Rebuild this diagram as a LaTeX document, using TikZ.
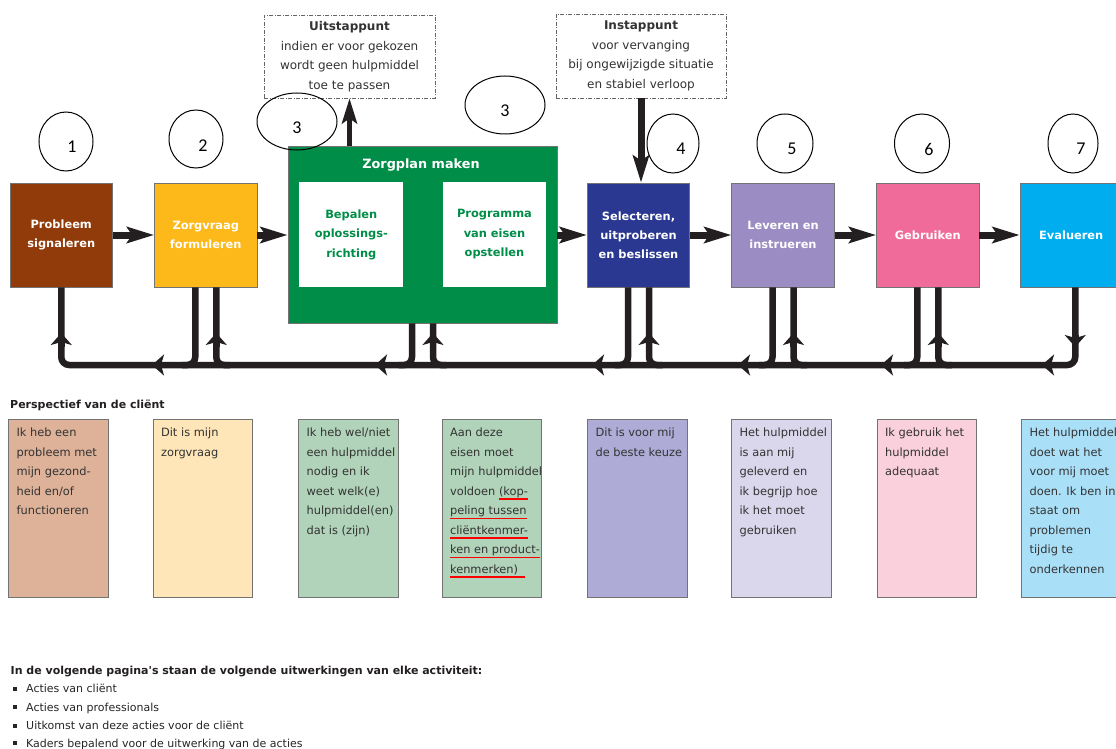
\documentclass[tikz,border=0pt]{standalone}
\usepackage{fontspec}
\setmainfont{DejaVu Sans}
\newfontfamily\numfont{Carlito}
\usetikzlibrary{arrows.meta,calc,shapes.geometric}
\definecolor{cBrown}{RGB}{145,58,10}
\definecolor{cYellow}{RGB}{252,185,25}
\definecolor{cGreen}{RGB}{0,141,72}
\definecolor{cBlue}{RGB}{43,56,145}
\definecolor{cLav}{RGB}{155,140,196}
\definecolor{cPink}{RGB}{240,107,153}
\definecolor{cCyan}{RGB}{0,174,239}
\definecolor{pTan}{RGB}{221,178,153}
\definecolor{pYel}{RGB}{254,230,184}
\definecolor{pGreen}{RGB}{176,211,185}
\definecolor{pBlue}{RGB}{174,172,214}
\definecolor{pLav}{RGB}{218,214,235}
\definecolor{pPink}{RGB}{249,208,220}
\definecolor{pCyan}{RGB}{170,223,248}
\definecolor{ink}{RGB}{35,31,32}
\newsavebox\rlbox
\newcommand\redline[1]{\sbox\rlbox{#1}\rlap{\color{red}\rule[-4.3pt]{\wd\rlbox}{1.6pt}}\usebox\rlbox}
\newcommand\sqbullet{\hspace{2pt}\makebox[13pt][l]{\raisebox{2pt}{\rule{3.6pt}{3.6pt}}}}
\begin{document}
\begin{tikzpicture}[x=1pt,y=-1pt,
  box/.style={draw=black!55, line width=0.8pt, minimum width=102.5pt, minimum height=104pt, inner sep=0pt, text=white, font=\bfseries\fontsize{11.4}{19}\selectfont, align=center},
  wbox/.style={fill=white, minimum width=104pt, minimum height=105pt, inner sep=0pt, text=cGreen, font=\bfseries\fontsize{11.4}{19.5}\selectfont, align=center},
  pbox/.style={draw=black!55, line width=0.8pt, minimum width=99.5pt, minimum height=178pt, inner sep=0pt},
  ptext/.style={anchor=north west, inner sep=0pt, align=left, text=black!80, font=\fontsize{11.4}{19.5}\selectfont},
  dbox/.style={draw=black!60, line width=0.7pt, dash pattern=on 4pt off 1.5pt on 1pt off 1.5pt, minimum width=171pt, minimum height=83pt, inner sep=0pt, align=center, text=black!80, font=\fontsize{12}{19.5}\selectfont},
  mainarrow/.style={line width=7pt, draw=ink, -{Stealth[length=27pt,width=16pt,inset=5pt]}},
  fb/.style={line width=6.5pt, draw=ink, rounded corners=8pt},
  fbtip/.style={line width=6.5pt, draw=ink, -{Stealth[length=12pt,width=21pt,inset=3pt]}},
  numell/.style={draw=black, line width=1pt, ellipse, inner sep=0pt},
  num/.style={inner sep=0pt, font=\numfont\fontsize{18}{18}\selectfont},
  bottomtxt/.style={anchor=base west, inner sep=0pt, text=black!85, font=\fontsize{11}{13}\selectfont}
]
\useasboundingbox (0,0) rectangle (1116,749);
\fill[white] (0,0) rectangle (1116,749);

% main process boxes
\node[box, fill=cBrown] (b1) at (61.25,235) {Probleem\\signaleren};
\node[box, fill=cYellow] (b2) at (205.75,235) {Zorgvraag\\formuleren};
\node[draw=black!55, line width=0.8pt, fill=cGreen, minimum width=269pt, minimum height=177pt, inner sep=0pt] (green) at (422.5,234.5) {};
\node[text=white, font=\bfseries\fontsize{12.8}{15}\selectfont, inner sep=0pt] (zp) at (421,165) {Zorgplan maken};
\node[wbox] (w1) at (351.3,234.5) {Bepalen\\oplossings-\\richting};
\node[wbox, minimum width=103pt] (w2) at (494.5,234.5) {Programma\\van eisen\\opstellen};
\node[box, fill=cBlue] (b4) at (638.5,235) {Selecteren,\\uitproberen\\en beslissen};
\node[box, fill=cLav] (b5) at (783,235) {Leveren en\\instrueren};
\node[box, fill=cPink] (b6) at (927.75,235) {Gebruiken};
\node[box, fill=cCyan] (b7) at (1071.25,235) {Evalueren};

% dashed boxes
\node[dbox] (uit) at (349.5,56.5) {\textbf{Uitstappunt}\\indien er voor gekozen\\wordt geen hulpmiddel\\toe te passen};
\node[dbox, minimum width=170pt, minimum height=84pt] (in) at (641,56) {\textbf{Instappunt}\\voor vervanging\\bij ongewijzigde situatie\\en stabiel verloop};

% main arrows
\draw[mainarrow] (b1.east) -- (b2.west);
\draw[mainarrow] (b2.east) -- (b2.east -| green.west);
\draw[mainarrow] (green.east |- b4.west) -- (b4.west);
\draw[mainarrow] (b4.east) -- (b5.west);
\draw[mainarrow] (b5.east) -- (b6.west);
\draw[mainarrow] (b6.east) -- (b7.west);
\draw[line width=5.5pt, draw=ink, -{Stealth[length=25pt,width=15pt,inset=5pt]}] (uit.south |- green.north) -- (uit.south);
\draw[mainarrow] (in.south) -- (in.south |- b4.north);

% feedback loop
\coordinate (bus) at (0,365);
\coordinate (ua) at (0,347);
\coordinate (ub) at (0,333);
\draw[fb] ($(b7.south)+(4,0)$) |- (bus -| b1.south) -- (b1.south);
\foreach \n in {b2,green,b4,b5,b6}{
  \draw[fb] ($(\n.south)+(-10.5,0)$) |- ($(\n.south |- bus)+(-24,0)$);
  \draw[fb] ($(\n.south)+(10.5,0)$) |- ($(\n.south |- bus)+(24,0)$);
  \draw[fbtip] ($(\n.south |- ua)+(10.5,0)$) -- ($(\n.south |- ub)+(10.5,0)$);
}
\draw[fbtip] (b1.south |- ua) -- (b1.south |- ub);
\draw[fbtip] ($(b7.south |- ub)+(4,2)$) -- ($(b7.south |- ua)+(4,0)$);
\foreach \x in {152,375,592,738,881,1042}{
  \draw[fbtip] (\x+12,365) -- (\x,365);
}

% numbered ellipses
\node[numell, minimum width=54pt, minimum height=59pt] (e1) at (66,141.5) {};
\node[numell, minimum width=54pt, minimum height=58pt] (e2) at (196,139) {};
\node[numell, minimum width=80pt, minimum height=57pt] (e3a) at (297,121.5) {};
\node[numell, minimum width=80pt, minimum height=58pt] (e3b) at (505,105) {};
\node[numell, minimum width=52pt, minimum height=59pt] (e4) at (673,143.5) {};
\node[numell, minimum width=56pt, minimum height=59pt] (e5) at (785,143.5) {};
\node[numell, minimum width=55pt, minimum height=59pt] (e6) at (922,143.5) {};
\node[numell, minimum width=50pt, minimum height=59pt] (e7) at (1073,143.5) {};
\node[num] (n1) at (72,147) {1};
\node[num] (n2) at (203,146) {2};
\node[num] (n3a) at (297,128) {3};
\node[num] (n3b) at (505,111) {3};
\node[num] (n4) at (681,149) {4};
\node[num] (n5) at (792,149) {5};
\node[num] (n6) at (929,149) {6};
\node[num] (n7) at (1081,149) {7};

% perspective
\node[anchor=west, inner sep=0pt, text=ink, font=\bfseries\fontsize{11}{13}\selectfont] (persp) at (10,405) {Perspectief van de cliënt};
\node[pbox, fill=pTan] (pa) at (58.5,508) {};
\node[pbox, fill=pYel] (pb) at (203,508) {};
\node[pbox, fill=pGreen] (pc) at (348.5,508) {};
\node[pbox, fill=pGreen] (pd) at (492,508) {};
\node[pbox, fill=pBlue] (pe) at (637.5,508) {};
\node[pbox, fill=pLav] (pf) at (781.5,508) {};
\node[pbox, fill=pPink] (pg) at (927,508) {};
\node[pbox, fill=pCyan] (ph) at (1071.5,508) {};
\node[ptext] (ta) at ($(pa.north west)+(8,9.5)$) {Ik heb een\\probleem met\\mijn gezond-\\heid en/of\\functioneren};
\node[ptext] (tb) at ($(pb.north west)+(8,9.5)$) {Dit is mijn\\zorgvraag};
\node[ptext] (tc) at ($(pc.north west)+(8,9.5)$) {Ik heb wel/niet\\een hulpmiddel\\nodig en ik\\weet welk(e)\\hulpmiddel(en)\\dat is (zijn)};
\node[ptext] (td) at ($(pd.north west)+(8,9.5)$) {Aan deze\\eisen moet\\mijn hulpmiddel\\voldoen \redline{(kop-}\\\redline{peling tussen}\\\redline{cliëntkenmer-}\\\redline{ken en product-}\\\redline{kenmerken)\ \ }};
\node[ptext] (te) at ($(pe.north west)+(8,9.5)$) {Dit is voor mij\\de beste keuze};
\node[ptext] (tf) at ($(pf.north west)+(8,9.5)$) {Het hulpmiddel\\is aan mij\\geleverd en\\ik begrijp hoe\\ik het moet\\gebruiken};
\node[ptext] (tg) at ($(pg.north west)+(8,9.5)$) {Ik gebruik het\\hulpmiddel\\adequaat};
\node[ptext] (th) at ($(ph.north west)+(8,9.5)$) {Het hulpmiddel\\doet wat het\\voor mij moet\\doen. Ik ben in\\staat om\\problemen\\tijdig te\\onderkennen};

% bottom text
\node[anchor=west, inner sep=0pt, text=ink, font=\bfseries\fontsize{11}{13}\selectfont] (head) at (10.5,672) {In de volgende pagina\textquotesingle s staan de volgende uitwerkingen van elke activiteit:};
\node[bottomtxt] (l1) at (11,692.5) {\sqbullet Acties van cliënt};
\node[bottomtxt] (l2) at (11,711) {\sqbullet Acties van professionals};
\node[bottomtxt] (l3) at (11,729.5) {\sqbullet Uitkomst van deze acties voor de cliënt};
\node[bottomtxt] (l4) at (11,747) {\sqbullet Kaders bepalend voor de uitwerking van de acties};
\end{tikzpicture}
\end{document}
